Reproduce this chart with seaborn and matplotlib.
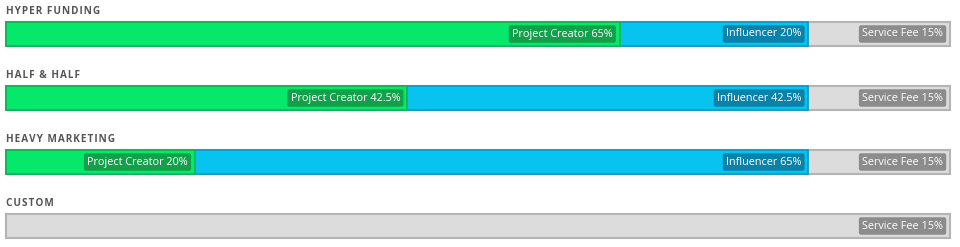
import matplotlib
matplotlib.use("Agg")
import matplotlib.pyplot as plt
import seaborn as sns
import pandas as pd

plans = ["HYPER FUNDING", "HALF & HALF", "HEAVY MARKETING", "CUSTOM"]
creator = [65, 42.5, 20, 0]
influencer = [20, 42.5, 65, 0]
fee = [15, 15, 15, 15]

sns.set_theme(style="white")
plt.rcParams['font.family'] = ['Open Sans', 'DejaVu Sans']

df = pd.DataFrame({"plan": plans, "creator": creator,
                   "influencer": influencer, "fee": fee})
df["track"] = 100.0
df["blue_end"] = df["creator"] + df["influencer"]

fig = plt.figure(figsize=(9.6, 2.47), dpi=100)
ax = fig.add_axes([0, 0, 1, 1])

bw = 0.375
sns.barplot(data=df, x="track", y="plan", orient="h", color="#dcdcdc",
            edgecolor="#b4b4b4", linewidth=1.5, width=bw, ax=ax, saturation=1)
sns.barplot(data=df[df["blue_end"] > 0], x="blue_end", y="plan", orient="h",
            color="#06c4ee", edgecolor="#0a9ccc", linewidth=1.3, width=bw,
            ax=ax, saturation=1, order=plans)
sns.barplot(data=df[df["creator"] > 0], x="creator", y="plan", orient="h",
            color="#06e86c", edgecolor="#14b653", linewidth=1.3, width=bw,
            ax=ax, saturation=1, order=plans)

# x: 0% at px 6, 100% at px 950
scale = 944 / 100
ax.set_xlim(-6 / scale, (960 - 6) / scale)
ax.set_ylim((247 - 34) / 64, -34 / 64)
ax.axis("off")

off = 7 / scale
sp = "\u200a"
for i, row in df.iterrows():
    title = sp.join(row["plan"])
    ax.text(0.2 / scale, i - 23 / 64, title, ha="left", va="center",
            fontsize=7.2, fontweight="bold", color="#555555")
    lab = dict(ha="right", va="center", fontsize=7.8, color="white")
    box = dict(boxstyle="round,pad=0.3,rounding_size=0.2", ec="none")
    if row["creator"] > 0:
        ax.text(row["creator"] - off, i, f"Project Creator {row['creator']:g}%",
                bbox={**box, "fc": "#13a04a"}, **lab)
    if row["influencer"] > 0:
        ax.text(row["blue_end"] - off, i, f"Influencer {row['influencer']:g}%",
                bbox={**box, "fc": "#0b82aa"}, **lab)
    ax.text(100 - off, i, f"Service Fee {row['fee']:g}%",
            bbox={**box, "fc": "#8c8c8c"}, **lab)

fig.savefig("out.png", dpi=100)
